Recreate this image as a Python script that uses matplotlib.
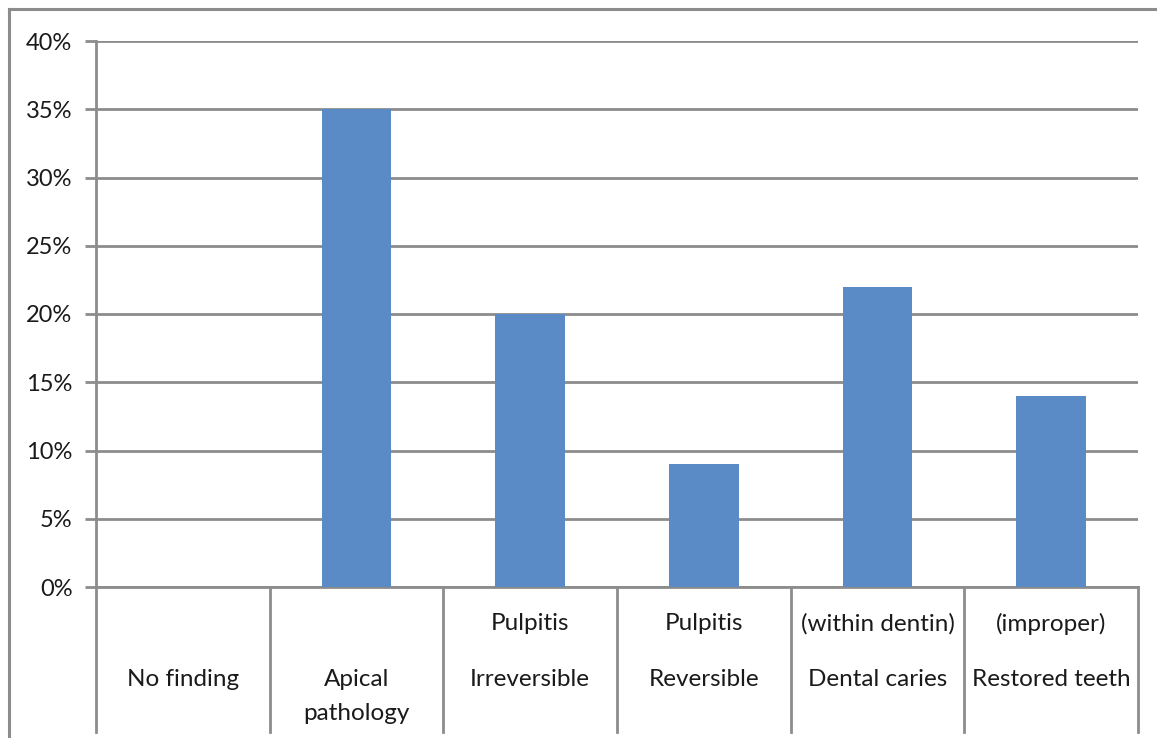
import matplotlib
matplotlib.use("Agg")
import matplotlib.pyplot as plt
from matplotlib.lines import Line2D
import matplotlib.transforms as mtransforms

# data
categories = ["No finding", "Apical pathology", "Pulpitis Irreversible",
              "Pulpitis Reversible", "Dental caries", "Restored teeth"]
values = [0, 35, 20, 9, 22, 14]
# label lines: (top row, middle row, bottom row)
label_rows = [("", "No finding", ""),
              ("", "Apical", "pathology"),
              ("Pulpitis", "Irreversible", ""),
              ("Pulpitis", "Reversible", ""),
              ("(within dentin)", "Dental caries", ""),
              ("(improper)", "Restored teeth", "")]
yticks = [0, 5, 10, 15, 20, 25, 30, 35, 40]

W, H = 1157, 738
grey = "#8c8c8c"
plt.rcParams['font.family'] = ['Lato', 'DejaVu Sans']

fig = plt.figure(figsize=(W / 100, H / 100), dpi=100)
x0, x1, ytop, y0 = 96, 1138, 41, 587
ax = fig.add_axes([x0 / W, (H - y0) / H, (x1 - x0) / W, (y0 - ytop) / H])

xs = list(range(len(categories)))
ax.bar(xs, values, width=0.4, color="#5B8BC6", zorder=3)

ax.set_xlim(-0.5, len(categories) - 0.5)
ax.set_ylim(0, 40)
ax.set_yticks(yticks)
ax.set_yticklabels([f"{t}%" for t in yticks], fontsize=17, color="#1a1a1a")
ax.set_xticks([])
ax.yaxis.grid(True, color=grey, lw=2, zorder=1)
ax.tick_params(axis="y", length=8, width=2, color=grey, pad=9)

for s in ["top", "right"]:
    ax.spines[s].set_visible(False)
for s in ["left", "bottom"]:
    ax.spines[s].set_color(grey)
    ax.spines[s].set_linewidth(2)

# category separators below the axis
trans = mtransforms.blended_transform_factory(ax.transData, ax.transAxes)
sep_bottom = -(732 - y0) / (y0 - ytop)
for i in range(len(categories) + 1):
    xb = i - 0.5
    ax.add_line(Line2D([xb, xb], [0, sep_bottom], transform=trans,
                       color=grey, lw=2, clip_on=False))

row_y = [-(624 - y0) / (y0 - ytop), -(679 - y0) / (y0 - ytop), -(714 - y0) / (y0 - ytop)]
for i, rows in enumerate(label_rows):
    for r, txt in enumerate(rows):
        if txt:
            ax.text(i, row_y[r], txt, transform=trans,
                    ha="center", va="center", fontsize=17.5, color="#1a1a1a")

# outer chart border (top and left visible)
fig.add_artist(Line2D([9 / W, 1], [1 - 9 / H, 1 - 9 / H], transform=fig.transFigure,
                      color=grey, lw=2.2))
fig.add_artist(Line2D([9 / W, 9 / W], [0, 1 - 9 / H], transform=fig.transFigure,
                      color=grey, lw=2.2))

fig.savefig("out.png", dpi=100, facecolor="white")
